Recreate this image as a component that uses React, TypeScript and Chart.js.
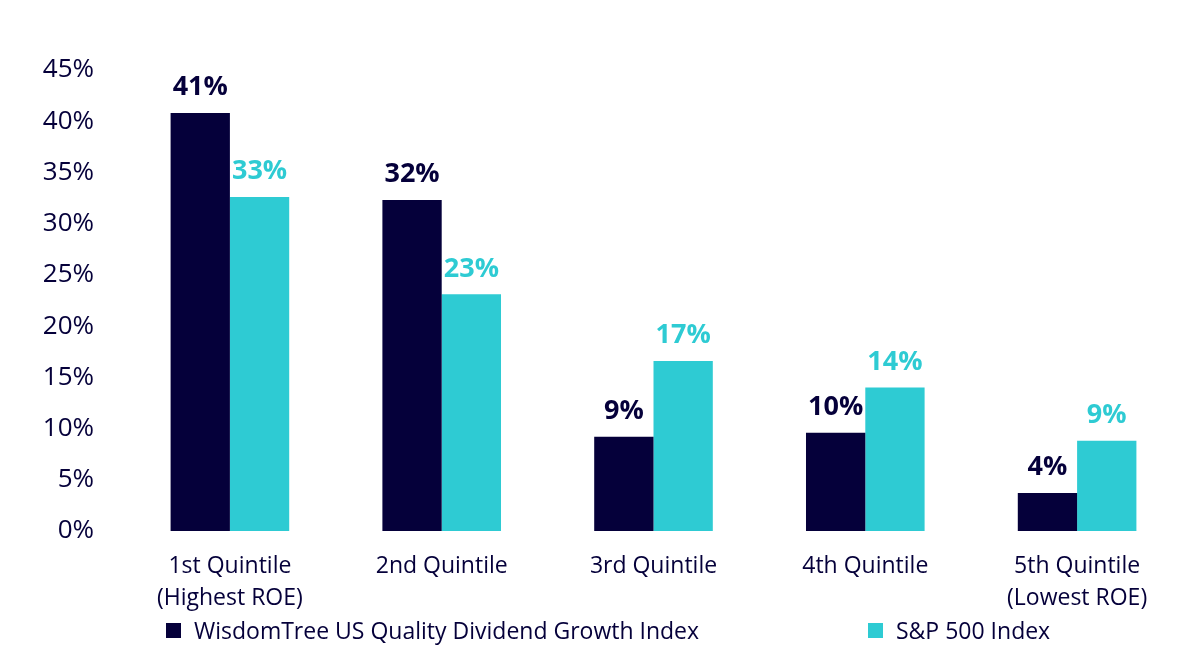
import { useEffect, useRef } from 'react';
import { Chart, registerables } from 'chart.js';

Chart.register(...registerables);

const categories: string[][] = [
  ['1st Quintile', '(Highest ROE)'],
  ['2nd Quintile'],
  ['3rd Quintile'],
  ['4th Quintile'],
  ['5th Quintile', '(Lowest ROE)'],
];
const wisdomTree = [40.8, 32.3, 9.2, 9.6, 3.7];
const sp500 = [32.6, 23.1, 16.6, 14.0, 8.8];
const seriesNames = ['WisdomTree US Quality Dividend Growth Index', 'S&P 500 Index'];

const DARK = '#05003a';
const TEAL = '#2ecbd3';
const FONT = '"Open Sans", sans-serif';

// values above each bar, same colour as the bar
const valueLabels = {
  id: 'valueLabels',
  afterDatasetsDraw(chart: Chart) {
    const ctx = chart.ctx;
    ctx.save();
    ctx.font = `bold 27px ${FONT}`;
    ctx.textAlign = 'center';
    ctx.textBaseline = 'bottom';
    chart.data.datasets.forEach((ds, i) => {
      const meta = chart.getDatasetMeta(i);
      ctx.fillStyle = ds.backgroundColor as string;
      meta.data.forEach((bar, j) => {
        const v = ds.data[j] as number;
        ctx.fillText(`${Math.round(v)}%`, bar.x, bar.y - 12);
      });
    });
    ctx.restore();
  },
};

const BarChart: React.FC = () => {
  const canvasRef = useRef<HTMLCanvasElement>(null);

  useEffect(() => {
    if (!canvasRef.current) return;
    const chart = new Chart(canvasRef.current, {
      type: 'bar',
      data: {
        labels: categories,
        datasets: [
          { label: seriesNames[0], data: wisdomTree, backgroundColor: DARK },
          { label: seriesNames[1], data: sp500, backgroundColor: TEAL },
        ],
      },
      options: {
        responsive: false,
        animation: false,
        layout: { padding: { top: 70, right: 17, left: 0, bottom: 0 } },
        datasets: { bar: { categoryPercentage: 0.56, barPercentage: 1.0 } },
        plugins: {
          legend: { display: false },
          tooltip: { enabled: false },
        },
        scales: {
          x: {
            grid: { display: false, drawTicks: false },
            border: { display: false },
            ticks: {
              color: DARK,
              font: { family: FONT, size: 23, lineHeight: 1.39 },
              padding: 19,
              maxRotation: 0,
            },
            afterFit: (scale: any) => {
              scale.height = 123;
            },
          },
          y: {
            min: 0,
            max: 45,
            grid: { display: false, drawTicks: false },
            border: { display: false },
            ticks: {
              stepSize: 5,
              color: DARK,
              padding: 30,
              font: { family: FONT, size: 26 },
              callback: (v: any) => `${v}%`,
            },
            afterFit: (scale: any) => {
              scale.width = 124;
            },
          },
        },
      },
      plugins: [valueLabels],
    });
    return () => chart.destroy();
  }, []);

  const legendItem = (name: string, color: string, left: number) => (
    <div
      style={{
        position: 'absolute',
        left,
        top: 614,
        display: 'flex',
        alignItems: 'center',
        fontFamily: FONT,
        fontSize: 23,
        color: DARK,
        whiteSpace: 'nowrap',
      }}
    >
      <span style={{ width: 15, height: 15, background: color, marginRight: 13 }} />
      {name}
    </div>
  );

  return (
    <div style={{ position: 'fixed', left: 0, top: 0, width: 1200, height: 654, background: '#fff' }}>
      <canvas ref={canvasRef} width={1200} height={654} style={{ display: 'block' }} />
      {legendItem(seriesNames[0], DARK, 166)}
      {legendItem(seriesNames[1], TEAL, 868)}
    </div>
  );
};

export default function App() {
  return <BarChart />;
}
